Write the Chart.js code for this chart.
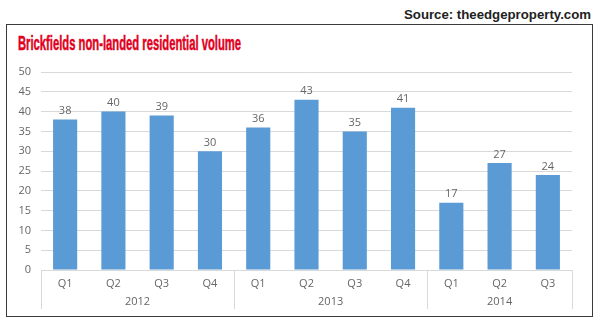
<!DOCTYPE html>
<html>
<head>
<meta charset="utf-8">
<script src="https://cdn.jsdelivr.net/npm/chart.js@4"></script>
<style>
  html, body { margin: 0; padding: 0; background: #fff; }
  #wrap { position: relative; width: 600px; height: 326px; overflow: hidden; }
  #frame { position: absolute; left: 6px; top: 24px; width: 585px; height: 291px; border: 1.5px solid #3a3a3a; }
  .fit { position: absolute; white-space: nowrap; transform-origin: 0 50%; }
  #source { top: 8px; font: bold 12px "Liberation Sans Narrow", "Liberation Sans", sans-serif; color: #222; }
  #title { left: 18px; top: 32px; font: bold 20px "Liberation Sans Narrow", "Liberation Sans", sans-serif; color: #e1001e; -webkit-text-stroke: 0.5px #e1001e; }
  canvas { position: absolute; left: 0; top: 0; }
</style>
</head>
<body>
<div id="wrap">
  <div id="frame"></div>
  <div id="source" class="fit">Source: theedgeproperty.com</div>
  <div id="title" class="fit">Brickfields non-landed residential volume</div>
  <canvas id="c" width="600" height="326"></canvas>
</div>
<script>
// Quarterly non-landed residential transaction volume, Brickfields
const quarters = ['Q1', 'Q2', 'Q3', 'Q4', 'Q1', 'Q2', 'Q3', 'Q4', 'Q1', 'Q2', 'Q3'];
const years = ['2012', '2013', '2014'];
const quartersPerYear = [4, 4, 3];
const volume = [38, 40, 39, 30, 36, 43, 35, 41, 17, 27, 24];
const yTicks = [0, 5, 10, 15, 20, 25, 30, 35, 40, 45, 50];

// squeeze heading texts to their condensed widths
function fitText(id, width, left) {
  const el = document.getElementById(id);
  const w = el.getBoundingClientRect().width;
  el.style.transform = 'scaleX(' + (width / w) + ')';
  if (left !== undefined) el.style.left = left + 'px';
}
fitText('title', 223);
fitText('source', 187, 404);

const tickColor = '#666666';
const gridColor = '#d9d9d9';
const tickFont = { family: '"Open Sans", "DejaVu Sans", sans-serif', size: 11 };

// value labels above each bar
const valueLabels = {
  id: 'valueLabels',
  afterDatasetsDraw(chart) {
    const ctx = chart.ctx;
    const meta = chart.getDatasetMeta(0);
    ctx.save();
    ctx.font = '11px ' + tickFont.family;
    ctx.fillStyle = tickColor;
    ctx.textAlign = 'center';
    ctx.textBaseline = 'bottom';
    meta.data.forEach((bar, i) => {
      ctx.fillText(String(volume[i]), bar.x, bar.y - 3);
    });
    ctx.restore();
  }
};

// year row below the quarter labels, with group separators
const yearGroups = {
  id: 'yearGroups',
  afterDraw(chart) {
    const ctx = chart.ctx;
    const x = chart.scales.x;
    const top = chart.chartArea.bottom;
    const half = (x.getPixelForValue(1) - x.getPixelForValue(0)) / 2;
    ctx.save();
    ctx.strokeStyle = gridColor;
    ctx.lineWidth = 1;
    ctx.font = '11px ' + tickFont.family;
    ctx.fillStyle = tickColor;
    ctx.textAlign = 'center';
    ctx.textBaseline = 'middle';
    let start = 0;
    const edges = [x.getPixelForValue(0) - half];
    years.forEach((yr, g) => {
      const end = start + quartersPerYear[g] - 1;
      const l = x.getPixelForValue(start) - half;
      const r = x.getPixelForValue(end) + half;
      edges.push(r);
      ctx.fillText(yr, (l + r) / 2, top + 32);
      start = end + 1;
    });
    edges.forEach(px => {
      const p = Math.round(px) + 0.5;
      ctx.beginPath();
      ctx.moveTo(p, top);
      ctx.lineTo(p, top + 39);
      ctx.stroke();
    });
    ctx.restore();
  }
};

new Chart(document.getElementById('c'), {
  type: 'bar',
  data: {
    labels: quarters,
    datasets: [{
      data: volume,
      backgroundColor: '#5b9bd5',
      borderWidth: 0,
      categoryPercentage: 1,
      barPercentage: 0.5
    }]
  },
  options: {
    responsive: false,
    animation: false,
    devicePixelRatio: 1,
    layout: { padding: { top: 72, right: 28, left: 0, bottom: 0 } },
    plugins: { legend: { display: false }, tooltip: { enabled: false } },
    scales: {
      x: {
        grid: { display: false, drawTicks: false },
        border: { display: true, color: gridColor },
        ticks: { color: tickColor, font: tickFont, padding: 7, maxRotation: 0 },
        afterFit(scale) { scale.height = 56; }
      },
      y: {
        min: 0,
        max: 50,
        afterBuildTicks(scale) { scale.ticks = yTicks.map(v => ({ value: v })); },
        grid: { color: gridColor, drawTicks: false },
        border: { display: false },
        ticks: { color: tickColor, font: tickFont, padding: 10 },
        afterFit(scale) { scale.width = 41; }
      }
    }
  },
  plugins: [valueLabels, yearGroups]
});
</script>
</body>
</html>
